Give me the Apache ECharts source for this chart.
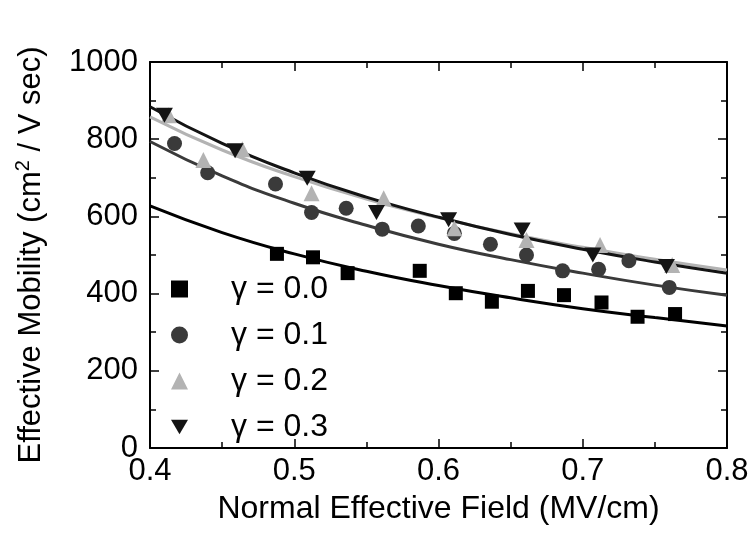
<!DOCTYPE html>
<html>
<head>
<meta charset="utf-8">
<script src="https://cdn.jsdelivr.net/npm/echarts@6/dist/echarts.min.js"></script>
<style>
html,body{margin:0;padding:0;background:#fff;}
#chart{width:754px;height:533px;}
</style>
</head>
<body>
<div id="chart"></div>
<script>
// ---- Data ----
const legendNames = ['\u03B3 = 0.0', '\u03B3 = 0.1', '\u03B3 = 0.2', '\u03B3 = 0.3'];

// measured points [field (MV/cm), mobility]
const pts00 = [[0.488,503],[0.513,494],[0.537,453],[0.587,459],[0.612,401],[0.637,379],[0.662,407],[0.687,396],[0.713,377],[0.738,340],[0.764,347]];
const pts01 = [[0.417,789],[0.440,713],[0.487,684],[0.512,610],[0.536,621],[0.561,567],[0.586,575],[0.611,556],[0.636,528],[0.661,500],[0.686,459],[0.711,463],[0.732,485],[0.760,416]];
const pts02 = [[0.413,862],[0.437,746],[0.464,774],[0.512,660],[0.562,647],[0.611,569],[0.661,539],[0.712,526],[0.762,474]];
const pts03 = [[0.410,862],[0.459,770],[0.509,699],[0.557,610],[0.607,591],[0.658,565],[0.707,500],[0.758,470]];

// fitted curves
const fitX   = [0.40, 0.45, 0.50, 0.55, 0.60, 0.65, 0.70, 0.75, 0.80];
const fit00  = [627, 558, 503, 458, 421, 389, 361, 338, 316];
const fit01  = [794, 705, 634, 577, 528, 488, 453, 422, 396];
const fit02  = [858, 772, 703, 645, 597, 555, 520, 489, 461];
const fit03  = [884, 789, 713, 650, 598, 553, 515, 482, 453];

const xTicks = {min: 0.4, max: 0.8, interval: 0.1};
const yTicks = {min: 0, max: 1000, interval: 200};

const colors = {c00:'#000000', c01:'#3a3a3a', c02:'#b3b3b3', c03:'#141414'};
const downTri = 'path://M0,0 L20,0 L10,17 Z';

function zip(xs, ys){ return xs.map((x,i)=>[x, ys[i]]); }

const chart = echarts.init(document.getElementById('chart'), null, {renderer:'canvas'});
const FONT = 'Liberation Sans, Arial, Helvetica, sans-serif';

const axisCommon = {
  axisLine: {show:true, onZero:false, lineStyle:{color:'#000', width:2}},
  axisTick: {show:true, inside:true, length:9, lineStyle:{color:'#000', width:1.5}},
  minorTick: {show:true, splitNumber:2, length:6, lineStyle:{color:'#000', width:1.5}},
  splitLine: {show:false}
};

function lineSeries(name, ys, color){
  return {
    name: name, type:'line', data: zip(fitX, ys), smooth: true,
    showSymbol:false, symbol:'none', silent:true,
    lineStyle:{color: color, width: 3}, z: 2
  };
}
function scatterSeries(name, pts, symbol, size, color){
  return {
    name: name, type:'scatter', data: pts, symbol: symbol, symbolSize: size,
    itemStyle:{color: color, opacity:1}, z: 3
  };
}

const option = {
  animation:false,
  backgroundColor:'#fff',
  textStyle:{fontFamily: FONT},
  grid:{left:150, right:27, top:62, bottom:85, containLabel:false},
  legend:{
    orient:'vertical', left:166, top:268,
    itemWidth:17, itemHeight:17, itemGap:14,
    data: [
      {name: legendNames[0], icon:'rect'},
      {name: legendNames[1], icon:'circle'},
      {name: legendNames[2], icon:'triangle'},
      {name: legendNames[3], icon: downTri}
    ],
    textStyle:{fontFamily: FONT, fontSize:32, color:'#000', padding:[0,0,0,38]},
    selectedMode:false
  },
  xAxis:[
    Object.assign({
      type:'value', position:'bottom', min:xTicks.min, max:xTicks.max, interval:xTicks.interval,
      name:'Normal Effective Field (MV/cm)', nameLocation:'middle', nameGap:45,
      nameTextStyle:{fontFamily:FONT, fontSize:32, color:'#000'},
      axisLabel:{fontFamily:FONT, fontSize:31, color:'#000', margin:8,
        formatter: v => v.toFixed(1)}
    }, axisCommon),
    Object.assign({
      type:'value', position:'top', min:xTicks.min, max:xTicks.max, interval:xTicks.interval,
      axisLabel:{show:false}
    }, axisCommon)
  ],
  yAxis:[
    Object.assign({
      type:'value', position:'left', min:yTicks.min, max:yTicks.max, interval:yTicks.interval,
      name:'Effective Mobility (cm{sup|2} / V sec)', nameLocation:'middle', nameGap:101,
      nameTextStyle:{fontFamily:FONT, fontSize:31, color:'#000',
        rich:{sup:{fontFamily:FONT, fontSize:20, color:'#000', padding:[0,0,16,0]}}},
      axisLabel:{fontFamily:FONT, fontSize:31, color:'#000', margin:12,
        formatter: v => String(v)}
    }, axisCommon),
    Object.assign({
      type:'value', position:'right', min:yTicks.min, max:yTicks.max, interval:yTicks.interval,
      axisLabel:{show:false}
    }, axisCommon)
  ],
  series:[
    lineSeries('fit0', fit00, colors.c00),
    lineSeries('fit1', fit01, colors.c01),
    lineSeries('fit2', fit02, colors.c02),
    lineSeries('fit3', fit03, colors.c03),
    scatterSeries(legendNames[0], pts00, 'rect', 14, colors.c00),
    scatterSeries(legendNames[1], pts01, 'circle', 15, colors.c01),
    scatterSeries(legendNames[2], pts02, 'triangle', 16, colors.c02),
    scatterSeries(legendNames[3], pts03, downTri, [17,15], colors.c03)
  ]
};
chart.setOption(option);
</script>
</body>
</html>
